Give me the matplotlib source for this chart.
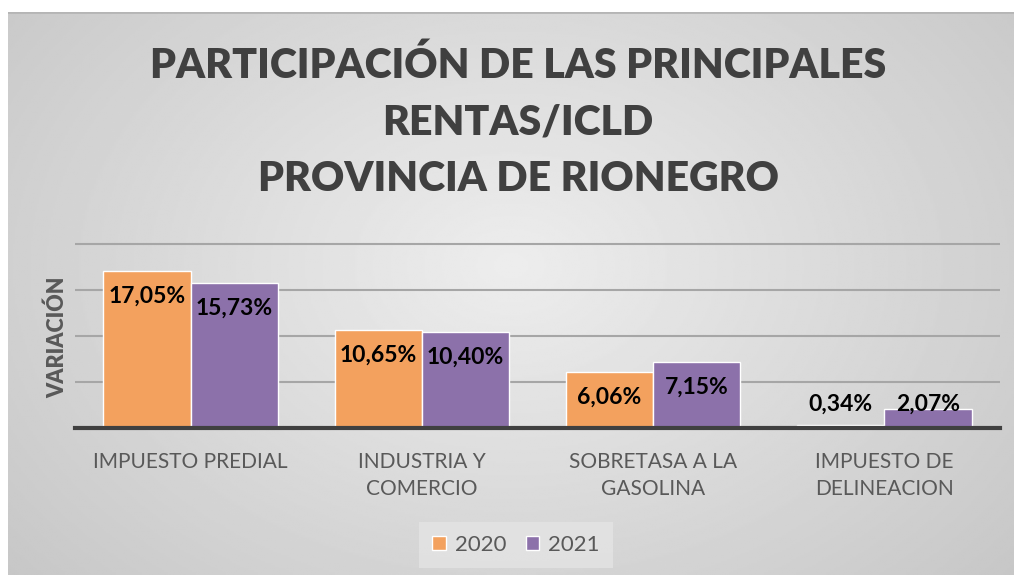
import numpy as np
import matplotlib
matplotlib.use("Agg")
import matplotlib.pyplot as plt

categorias = ["IMPUESTO PREDIAL", "INDUSTRIA Y\nCOMERCIO", "SOBRETASA A LA\nGASOLINA", "IMPUESTO DE\nDELINEACION"]
v2020 = [17.05, 10.65, 6.06, 0.34]
v2021 = [15.73, 10.40, 7.15, 2.07]
series = ["2020", "2021"]

titulo = "PARTICIPACIÓN DE LAS PRINCIPALES\nRENTAS/ICLD\nPROVINCIA DE RIONEGRO"

plt.rcParams['font.family'] = ['Lato', 'DejaVu Sans']
W, H = 1014, 575
fig = plt.figure(figsize=(W / 100, H / 100), dpi=100, facecolor="white")

# fondo con degradado radial
bg = fig.add_axes([8 / W, 0, (W - 8) / W, (H - 12) / H], zorder=-5)
yy, xx = np.mgrid[0:1:300j, 0:1:500j]
r = np.sqrt(((xx - 0.5) / 0.7) ** 2 + ((yy - 0.45) / 0.9) ** 2)
g = np.clip(0.93 - 0.16 * r, 0.76, 0.93)
bg.imshow(g, cmap="gray", vmin=0, vmax=1, aspect="auto", extent=[0, 1, 0, 1])
bg.axhline(1, color="#b5b5b5", lw=2)
bg.set_axis_off()

ax = fig.add_axes([75 / W, 1 - 428 / H, 925 / W, (428 - 244) / H * 20.3 / 20])
ax.set_facecolor("none")

x = np.arange(len(categorias))
w = 0.377
c20, c21 = "#F3A15E", "#8C71AA"
ax.bar(x - w / 2, v2020, w, color=c20, edgecolor="white", lw=1, label=series[0], zorder=3)
ax.bar(x + w / 2, v2021, w, color=c21, edgecolor="white", lw=1, label=series[1], zorder=3)

for xs, vals in [(x - w / 2, v2020), (x + w / 2, v2021)]:
    for xi, v in zip(xs, vals):
        ax.text(xi, max(v - 2.7, 2.6), f"{v:.2f}%".replace(".", ","), ha="center", va="center",
                fontsize=16.5, fontweight="bold", color="black", zorder=4)

ax.set_xlim(-0.5, 3.5)
ax.set_ylim(0, 20.3)
ax.set_yticks([5, 10, 15, 20])
ax.set_yticklabels([])
ax.tick_params(length=0)
ax.yaxis.grid(True, color="#a6a6a6", lw=1.5, zorder=0)
for s in ["top", "right", "left"]:
    ax.spines[s].set_visible(False)
ax.spines["bottom"].set_color("#404040")
ax.spines["bottom"].set_linewidth(3)
ax.spines["bottom"].set_zorder(5)

ax.set_xticks(x)
ax.set_xticklabels(categorias, fontsize=15, color="#595959", va="top", linespacing=1.45)
ax.tick_params(axis="x", pad=17)

fig.text(58 / W, 1 - 337 / H, "VARIACIÓN", rotation=90, ha="center", va="center",
         fontsize=15.5, fontweight="heavy", color="#595959")

fig.text(518 / W, 1 - 122 / H, titulo, ha="center", va="center", fontsize=29.5,
         fontweight="heavy", color="#404040", linespacing=1.6)

leg = fig.legend(loc="center", bbox_to_anchor=(516 / W, 1 - 545 / H), ncol=2, frameon=True,
                 fontsize=16, handlelength=0.6, handleheight=0.6, handletextpad=0.4,
                 columnspacing=0.9, labelcolor="#595959", borderpad=0.3)
leg.get_frame().set_facecolor("#e4e4e4")
leg.get_frame().set_edgecolor("none")
leg.get_frame().set_boxstyle("square")

fig.savefig("out.png", dpi=100)
